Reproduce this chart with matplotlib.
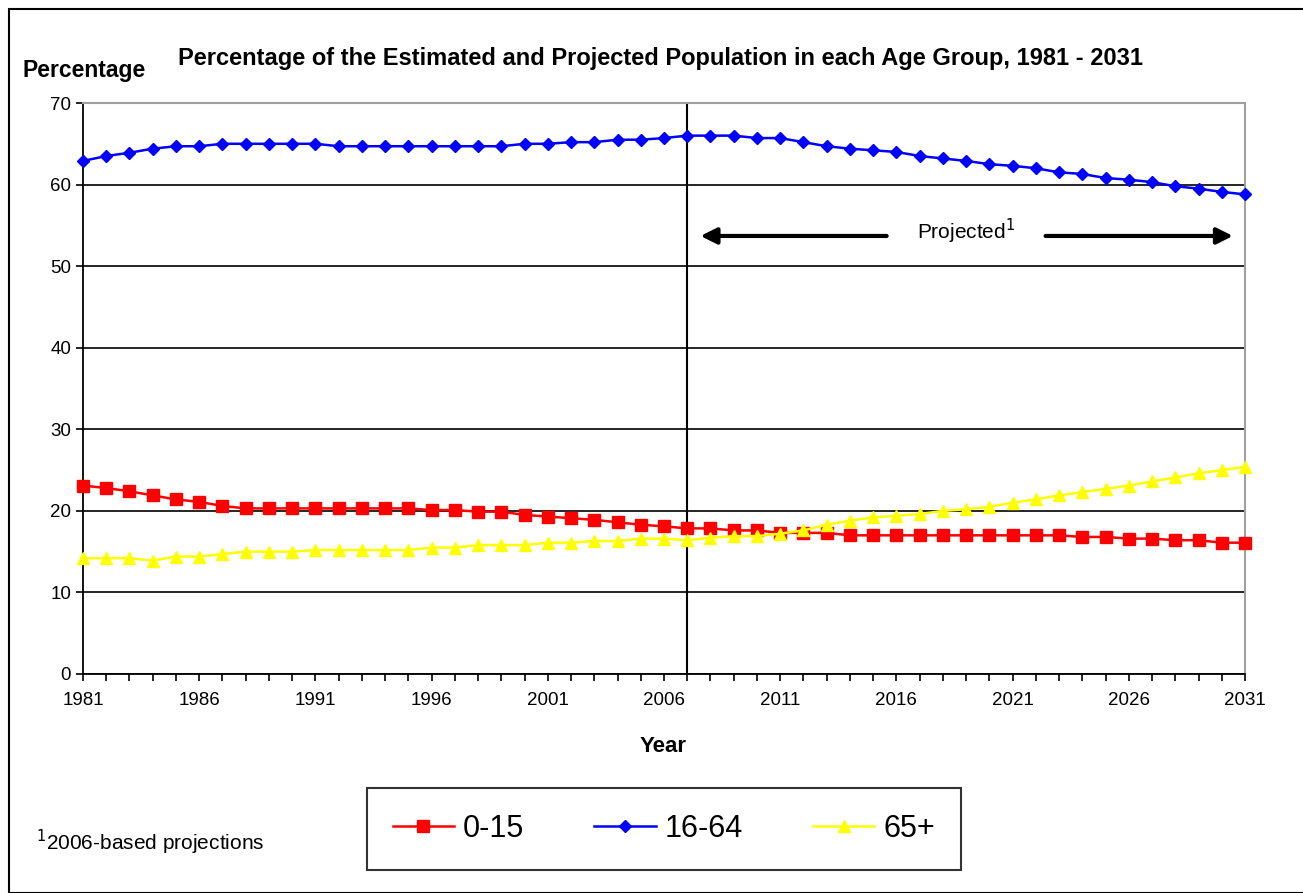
import numpy as np
import matplotlib
matplotlib.use("Agg")
import matplotlib.pyplot as plt
from matplotlib.patches import Rectangle

plt.rcParams['font.family'] = ['Liberation Sans', 'DejaVu Sans']

years = list(range(1981, 2032))

# 0-15
age_0_15 = [23.1, 22.8, 22.4, 21.9, 21.4, 21.1, 20.6, 20.3, 20.3, 20.3,
            20.3, 20.3, 20.3, 20.3, 20.3, 20.1, 20.1, 19.9, 19.9, 19.5,
            19.3, 19.1, 18.9, 18.6, 18.3, 18.1, 17.85, 17.85, 17.6, 17.6,
            17.3, 17.3, 17.3, 17.0, 17.0, 17.0, 17.0, 17.0, 17.0, 17.0,
            17.0, 17.0, 17.0, 16.8, 16.8, 16.6, 16.6, 16.4, 16.4, 16.1,
            16.1]
# 16-64
age_16_64 = [62.9, 63.5, 63.9, 64.4, 64.7, 64.7, 65.0, 65.0, 65.0, 65.0,
             65.0, 64.7, 64.7, 64.7, 64.7, 64.7, 64.7, 64.7, 64.7, 65.0,
             65.0, 65.2, 65.2, 65.5, 65.5, 65.7, 66.0, 66.0, 66.0, 65.7,
             65.7, 65.2, 64.7, 64.4, 64.2, 64.0, 63.5, 63.2, 62.9, 62.5,
             62.3, 62.0, 61.5, 61.3, 60.8, 60.6, 60.3, 59.8, 59.5, 59.1,
             58.8]
# 65+
age_65 = [14.2, 14.2, 14.2, 13.9, 14.4, 14.4, 14.7, 15.0, 15.0, 15.0,
          15.2, 15.2, 15.2, 15.2, 15.2, 15.5, 15.5, 15.8, 15.8, 15.8,
          16.1, 16.1, 16.3, 16.3, 16.6, 16.6, 16.4, 16.7, 16.9, 16.9,
          17.2, 17.6, 18.3, 18.8, 19.2, 19.4, 19.6, 20.0, 20.2, 20.5,
          21.0, 21.4, 21.9, 22.3, 22.7, 23.1, 23.6, 24.1, 24.6, 25.0,
          25.4]

series_labels = ['0-15', '16-64', '65+']
tick_years = list(range(1981, 2032, 5))
projection_start = 2007

fig = plt.figure(figsize=(13.03, 8.93), dpi=100)
fig.patches.append(Rectangle((9 / 1303, 0), 1.5, 1 - 9 / 893, transform=fig.transFigure,
                             fill=False, edgecolor='black', lw=1.5))

ax = fig.add_axes([83 / 1303, 1 - 674 / 893, (1245 - 83) / 1303, (674 - 103) / 893])

ax.plot(years, age_0_15, color='#ff0000', marker='s', markersize=8, lw=1.8,
        label=series_labels[0], clip_on=False, zorder=3)
ax.plot(years, age_16_64, color='#0000ff', marker='D', markersize=6.5, lw=1.8,
        label=series_labels[1], clip_on=False, zorder=3)
ax.plot(years, age_65, color='#ffff00', marker='^', markersize=9, lw=1.8,
        label=series_labels[2], clip_on=False, zorder=3)

ax.set_xlim(1981, 2031)
ax.set_ylim(0, 70)
ax.set_yticks(range(0, 71, 10))
ax.set_xticks(years, minor=True)
ax.set_xticks(tick_years)
ax.set_xticklabels([str(y) for y in tick_years])
ax.tick_params(axis='both', which='both', direction='out', length=5, width=1.2,
               labelsize=13.5, colors='black')
ax.tick_params(axis='x', pad=8)
ax.grid(axis='y', color='black', lw=1.2)
ax.set_axisbelow(True)

for s in ['left', 'bottom']:
    ax.spines[s].set_linewidth(1.3)
for s in ['top', 'right']:
    ax.spines[s].set_color('#a0a0a0')
    ax.spines[s].set_linewidth(1.5)

ax.axvline(projection_start, color='black', lw=1.5, zorder=2)

# projected arrows
ax.annotate('', xy=(2007.45, 53.7), xytext=(2015.7, 53.7),
            arrowprops=dict(arrowstyle='-|>', color='black', lw=3, mutation_scale=24))
ax.annotate('', xy=(2030.6, 53.7), xytext=(2022.3, 53.7),
            arrowprops=dict(arrowstyle='-|>', color='black', lw=3, mutation_scale=24))
ax.text(2019.0, 54.2, 'Projected$^{1}$', ha='center', va='center', fontsize=15)

fig.text(660 / 1303, 1 - 58 / 893, 'Percentage of the Estimated and Projected Population in each Age Group, 1981 - 2031',
         ha='center', va='center', fontsize=17, fontweight='bold')
fig.text(22 / 1303, 1 - 71 / 893, 'Percentage', ha='left', va='center', fontsize=16.5, fontweight='bold')
fig.text(663 / 1303, 1 - 747 / 893, 'Year', ha='center', va='center', fontsize=16, fontweight='bold')
fig.text(36 / 1303, 1 - 842 / 893, '$^{1}$2006-based projections', ha='left', va='center', fontsize=15)

leg = fig.legend(loc='center', bbox_to_anchor=((368 + 960) / 2 / 1303, 1 - 829 / 893),
                 ncol=3, fontsize=22, frameon=True, fancybox=False, edgecolor='black',
                 handlelength=2.0, columnspacing=2.3, borderpad=0.85, handletextpad=0.3,
                 borderaxespad=0)
leg.get_frame().set_linewidth(1.5)

fig.savefig('out.png', dpi=100)
